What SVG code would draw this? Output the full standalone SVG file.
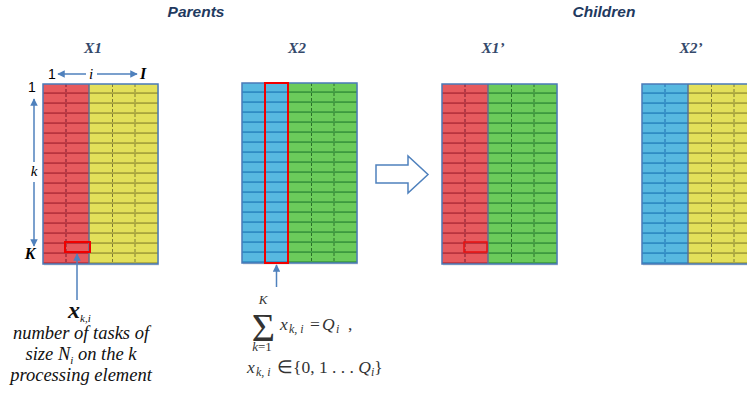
<svg xmlns="http://www.w3.org/2000/svg" width="747" height="394" viewBox="0 0 747 394">
<style>
.hd{font-family:"Liberation Sans",Arial,sans-serif;font-weight:bold;font-style:italic;font-size:15.5px;fill:#1F3A60}
.xl{font-family:"Liberation Serif","Times New Roman",serif;font-weight:bold;font-style:italic;font-size:15.5px;fill:#34496B}
.lab{font-family:"Liberation Serif","Times New Roman",serif;font-style:italic;fill:#000}
.num{font-family:"Liberation Sans",Arial,sans-serif;font-size:14px;fill:#000}
.desc{font-family:"Liberation Serif","Times New Roman",serif;font-style:italic;fill:#111}
.math{font-family:"Liberation Serif","Times New Roman",serif;fill:#333}
.mi{font-style:italic}
.border{fill:none;stroke:#4A7AB8;stroke-width:1.5}
.sep{stroke:#5E7090;stroke-width:1.5}
.dr{stroke:#7A1A30;stroke-width:1;stroke-dasharray:3 2}
.dy{stroke:#7D7A36;stroke-width:1;stroke-dasharray:3 2}
.db{stroke:#1F6CB0;stroke-width:1;stroke-dasharray:3 2}
.dg{stroke:#2A6F2A;stroke-width:1;stroke-dasharray:3 2}
.ptr{stroke:#4F81BD;stroke-width:1.5;fill:none}
.sel{fill:none;stroke:#F00000;stroke-width:2}
.shadow{fill:#000;opacity:0.12}
</style>
<defs>
<pattern id="pr" patternUnits="userSpaceOnUse" width="10" height="10"><rect width="10" height="10" fill="#E65A5E"/><rect y="8.2" width="10" height="1.8" fill="#B9343F"/></pattern>
<pattern id="py" patternUnits="userSpaceOnUse" width="10" height="10"><rect width="10" height="10" fill="#E3E05A"/><rect y="8.2" width="10" height="1.8" fill="#A9A53C"/></pattern>
<pattern id="pb" patternUnits="userSpaceOnUse" width="10" height="10"><rect width="10" height="10" fill="#57B8E0"/><rect y="8.2" width="10" height="1.8" fill="#2F8CC4"/></pattern>
<pattern id="pg" patternUnits="userSpaceOnUse" width="10" height="10"><rect width="10" height="10" fill="#6BCB5B"/><rect y="8.2" width="10" height="1.8" fill="#3D9A3F"/></pattern>
<marker id="ah" viewBox="0 0 10 10" refX="9" refY="5" markerWidth="5" markerHeight="5" orient="auto-start-reverse"><path d="M0,0 L10,5 L0,10 z" fill="#4F81BD"/></marker>
</defs>

<text class="hd" x="196" y="17" text-anchor="middle">Parents</text>
<text class="hd" x="604" y="17" text-anchor="middle">Children</text>

<g id="X1">
<text class="xl" x="93" y="53" text-anchor="middle">X1</text>
<g transform="translate(43,84)">
<rect class="shadow" x="1" y="1.5" width="115" height="180"/>
<rect width="46" height="180" fill="url(#pr)"/>
<rect x="46" width="69" height="180" fill="url(#py)"/>
<line class="dr" x1="23" y1="0" x2="23" y2="180"/>
<line class="dy" x1="69.5" y1="0" x2="69.5" y2="180"/>
<line class="dy" x1="92" y1="0" x2="92" y2="180"/>
<line class="sep" x1="46" y1="0" x2="46" y2="180"/>
<rect class="border" width="115" height="180"/>
</g>
<rect class="sel" x="65" y="242" width="25" height="10"/>
</g>

<g id="X2">
<text class="xl" x="297" y="53" text-anchor="middle">X2</text>
<g transform="translate(242,83)">
<rect class="shadow" x="1" y="1.5" width="115" height="180"/>
<rect width="46" height="180" fill="url(#pb)"/>
<rect x="46" width="69" height="180" fill="url(#pg)"/>
<line class="db" x1="23" y1="0" x2="23" y2="180"/>
<line class="dg" x1="69.5" y1="0" x2="69.5" y2="180"/>
<line class="dg" x1="92" y1="0" x2="92" y2="180"/>
<line class="sep" x1="46" y1="0" x2="46" y2="180"/>
<rect class="border" width="115" height="180"/>
</g>
<rect class="sel" x="265" y="83" width="23" height="180"/>
</g>

<g id="X1p">
<text class="xl" x="493" y="53" text-anchor="middle">X1’</text>
<g transform="translate(442,84)">
<rect class="shadow" x="1" y="1.5" width="115" height="180"/>
<rect width="46" height="180" fill="url(#pr)"/>
<rect x="46" width="69" height="180" fill="url(#pg)"/>
<line class="dr" x1="23" y1="0" x2="23" y2="180"/>
<line class="dg" x1="69.5" y1="0" x2="69.5" y2="180"/>
<line class="dg" x1="92" y1="0" x2="92" y2="180"/>
<line class="sep" x1="46" y1="0" x2="46" y2="180"/>
<rect class="border" width="115" height="180"/>
</g>
<rect x="464" y="242" width="23" height="10" fill="none" stroke="#E81010" stroke-width="1.5"/>
</g>

<g id="X2p">
<text class="xl" x="691" y="53" text-anchor="middle">X2’</text>
<g transform="translate(642,84)">
<rect class="shadow" x="1" y="1.5" width="115" height="180"/>
<rect width="46" height="180" fill="url(#pb)"/>
<rect x="46" width="69" height="180" fill="url(#py)"/>
<line class="db" x1="23" y1="0" x2="23" y2="180"/>
<line class="dy" x1="69.5" y1="0" x2="69.5" y2="180"/>
<line class="dy" x1="92" y1="0" x2="92" y2="180"/>
<line class="sep" x1="46" y1="0" x2="46" y2="180"/>
<rect class="border" width="115" height="180"/>
</g>
</g>

<g id="axes">
<text class="num" x="52" y="79" text-anchor="middle">1</text>
<text class="lab" x="91" y="79" text-anchor="middle" style="font-size:15px">i</text>
<text class="lab" x="143" y="79" text-anchor="middle" style="font-size:16px;font-weight:bold">I</text>
<text class="num" x="32" y="92" text-anchor="middle">1</text>
<text class="lab" x="34" y="176" text-anchor="middle" style="font-size:15px">k</text>
<text class="lab" x="30" y="259" text-anchor="middle" style="font-size:16px;font-weight:bold">K</text>
</g>

<g id="connectors">
<line class="ptr" x1="86" y1="74" x2="58" y2="74" marker-end="url(#ah)"/>
<line class="ptr" x1="97" y1="74" x2="137" y2="74" marker-end="url(#ah)"/>
<line class="ptr" x1="34" y1="162" x2="34" y2="99" marker-end="url(#ah)"/>
<line class="ptr" x1="34" y1="182" x2="34" y2="246" marker-end="url(#ah)"/>
<line class="ptr" x1="77" y1="300" x2="77" y2="254" marker-end="url(#ah)"/>
<line class="ptr" x1="276.5" y1="287" x2="276.5" y2="265" marker-end="url(#ah)"/>
<path d="M376,165 L408,165 L408,156 L428,174.5 L408,193 L408,183 L376,183 Z" fill="#FFFFFF" stroke="#4F81BD" stroke-width="1.5" stroke-linejoin="miter"/>
</g>

<g id="desc">
<text class="desc" x="68" y="318" style="font-size:24px;font-weight:bold">x</text>
<text class="desc" x="80" y="322" style="font-size:11px">k,i</text>
<text class="desc" x="81" y="339" text-anchor="middle" style="font-size:18.5px">number of tasks of</text>
<text class="desc" x="81" y="360" text-anchor="middle" style="font-size:18.5px">size N<tspan style="font-size:11px" dy="4">i</tspan><tspan dy="-4"> on the k</tspan></text>
<text class="desc" x="81" y="381" text-anchor="middle" style="font-size:18.5px">processing element</text>
</g>

<g id="formula">
<text class="math mi" x="263" y="304" text-anchor="middle" style="font-size:13px">K</text>
<text class="math" x="263.5" y="341" text-anchor="middle" style="font-size:40px">Σ</text>
<text class="math" x="262" y="351" text-anchor="middle" style="font-size:13px"><tspan class="mi">k</tspan>=1</text>
<text class="math" x="280" y="330" style="font-size:17.5px"><tspan class="mi">x</tspan><tspan class="mi" style="font-size:12px" x="289" dy="3">k, i</tspan><tspan x="310" dy="-3">=</tspan><tspan class="mi" x="322">Q</tspan><tspan class="mi" style="font-size:12px" x="336" dy="3">i</tspan><tspan x="348" dy="-3">,</tspan></text>
<text class="math" x="247" y="373" style="font-size:17.5px"><tspan class="mi">x</tspan><tspan class="mi" style="font-size:12px" x="256" dy="3">k, i</tspan><tspan x="277" dy="-3">∈</tspan><tspan x="293">{0, 1 . . . </tspan><tspan class="mi">Q</tspan><tspan class="mi" style="font-size:12px" dy="3">i</tspan><tspan dy="-3">}</tspan></text>
</g>
</svg>
